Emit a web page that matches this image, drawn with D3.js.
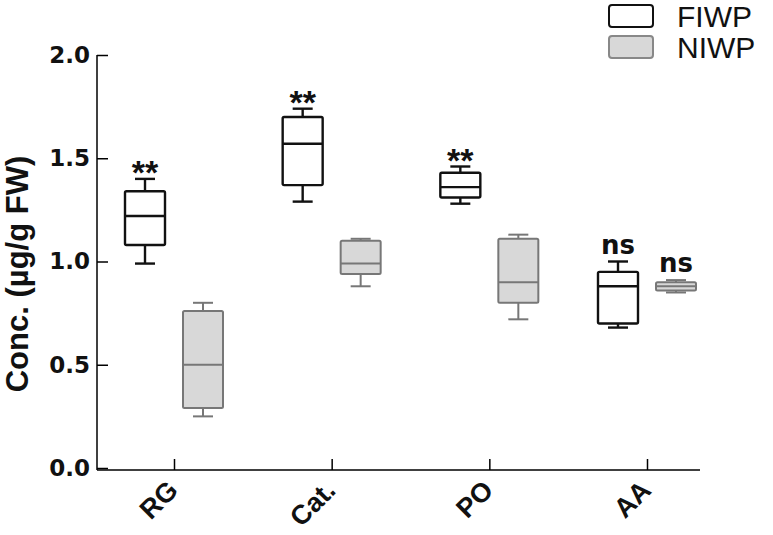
<!DOCTYPE html>
<html>
<head>
<meta charset="utf-8">
<script src="https://cdn.jsdelivr.net/npm/d3@7"></script>
<style>
  body { margin: 0; background: #fff; }
</style>
</head>
<body>
<div id="chart"></div>
<script>
  const width = 773, height = 535;
  const sans = '"Liberation Sans", Arial, sans-serif';
  const dejavu = '"DejaVu Sans", sans-serif';

  const categories = ["RG", "Cat.", "PO", "AA"];
  const groups = ["FIWP", "NIWP"];
  // [whisker low, Q1, median, Q3, whisker high]
  const fiwp = [
    [0.99, 1.08, 1.22, 1.34, 1.40],
    [1.29, 1.37, 1.57, 1.70, 1.74],
    [1.28, 1.31, 1.36, 1.43, 1.46],
    [0.68, 0.70, 0.88, 0.95, 1.00]
  ];
  const niwp = [
    [0.25, 0.29, 0.50, 0.76, 0.80],
    [0.88, 0.94, 0.99, 1.10, 1.11],
    [0.72, 0.80, 0.90, 1.11, 1.13],
    [0.85, 0.86, 0.88, 0.90, 0.91]
  ];
  const fiwpSig = ["**", "**", "**", "ns"];
  const niwpSig = ["", "", "", "ns"];
  const yTicks = [0, 0.5, 1.0, 1.5, 2.0];

  const svg = d3.select('#chart')
    .append('svg')
    .attr('width', width)
    .attr('height', height)
    .attr('font-family', sans);

  const x = d3.scalePoint().domain(categories).range([174, 647]);
  const y = d3.scaleLinear().domain([0, 2]).range([468, 55]);
  const offset = 29, boxW = 40;

  // y axis, ticks pointing inward
  const yAxis = svg.append('g')
    .attr('transform', 'translate(97,0)')
    .call(d3.axisLeft(y).tickValues(yTicks).tickFormat(d3.format('.1f')).tickSizeOuter(0).tickSize(-11).tickPadding(7));
  yAxis.attr('font-family', dejavu).attr('font-size', 23);
  yAxis.select('.domain').attr('d', `M0,${y(2)}V470`).attr('stroke-width', 1.5);
  yAxis.selectAll('line').attr('stroke-width', 1.5);
  yAxis.selectAll('text')
    .attr('x', -7)
    .attr('font-weight', 'bold').attr('fill', '#111');

  // x axis
  const xAxis = svg.append('g')
    .attr('transform', 'translate(0,470)')
    .call(d3.axisBottom(x).tickSize(-11).tickSizeOuter(0));
  xAxis.attr('font-family', sans).attr('font-size', 27);
  xAxis.select('.domain').attr('d', 'M97,0H700').attr('stroke-width', 1.5);
  xAxis.selectAll('line').attr('stroke-width', 1.5);
  xAxis.selectAll('text')
    .attr('font-weight', 'bold').attr('fill', '#111')
    .attr('text-anchor', 'end')
    .attr('dy', null).attr('y', 0)
    .attr('transform', 'translate(5,22) rotate(-45)');

  // y label
  svg.append('text')
    .attr('transform', 'translate(28,274) rotate(-90)')
    .attr('text-anchor', 'middle')
    .attr('font-size', 31).attr('font-weight', 'bold').attr('fill', '#111')
    .text('Conc. (µg/g FW)');

  function drawBoxes(data, dx, stroke, fill, sw, sig) {
    const g = svg.append('g');
    data.forEach((d, i) => {
      const cx = x(categories[i]) + dx;
      const [lo, q1, med, q3, hi] = d;
      const b = g.append('g').attr('stroke', stroke).attr('stroke-width', sw).attr('fill', 'none');
      b.append('line').attr('x1', cx).attr('x2', cx).attr('y1', y(hi)).attr('y2', y(q3));
      b.append('line').attr('x1', cx).attr('x2', cx).attr('y1', y(q1)).attr('y2', y(lo));
      b.append('line').attr('x1', cx - boxW / 4).attr('x2', cx + boxW / 4).attr('y1', y(hi)).attr('y2', y(hi));
      b.append('line').attr('x1', cx - boxW / 4).attr('x2', cx + boxW / 4).attr('y1', y(lo)).attr('y2', y(lo));
      b.append('rect').attr('x', cx - boxW / 2).attr('width', boxW)
        .attr('y', y(q3)).attr('height', y(q1) - y(q3))
        .attr('fill', fill).attr('rx', 1.5);
      b.append('line').attr('x1', cx - boxW / 2).attr('x2', cx + boxW / 2).attr('y1', y(med)).attr('y2', y(med));
      if (sig[i]) {
        const isStar = sig[i] === '**';
        g.append('text')
          .attr('x', cx).attr('y', y(hi) + (isStar ? 5 : -8))
          .attr('text-anchor', 'middle')
          .attr('font-family', isStar ? sans : dejavu)
          .attr('font-size', isStar ? 34 : 26).attr('font-weight', 'bold').attr('fill', '#111')
          .text(sig[i]);
      }
    });
  }

  drawBoxes(fiwp, -offset, '#111', '#fff', 2.4, fiwpSig);
  drawBoxes(niwp, offset, '#777', '#d8d8d8', 2, niwpSig);

  // legend
  const legend = svg.append('g');
  const legStyles = [{ stroke: '#111', fill: '#fff' }, { stroke: '#888', fill: '#d8d8d8' }];
  groups.forEach((name, i) => {
    legend.append('rect')
      .attr('x', 609).attr('y', 5 + i * 31).attr('width', 44).attr('height', 22).attr('rx', 3)
      .attr('fill', legStyles[i].fill).attr('stroke', legStyles[i].stroke).attr('stroke-width', 2);
    legend.append('text')
      .attr('x', 677).attr('y', 27 + i * 31)
      .attr('font-size', 30).attr('fill', '#111')
      .text(name);
  });
</script>
</body>
</html>
